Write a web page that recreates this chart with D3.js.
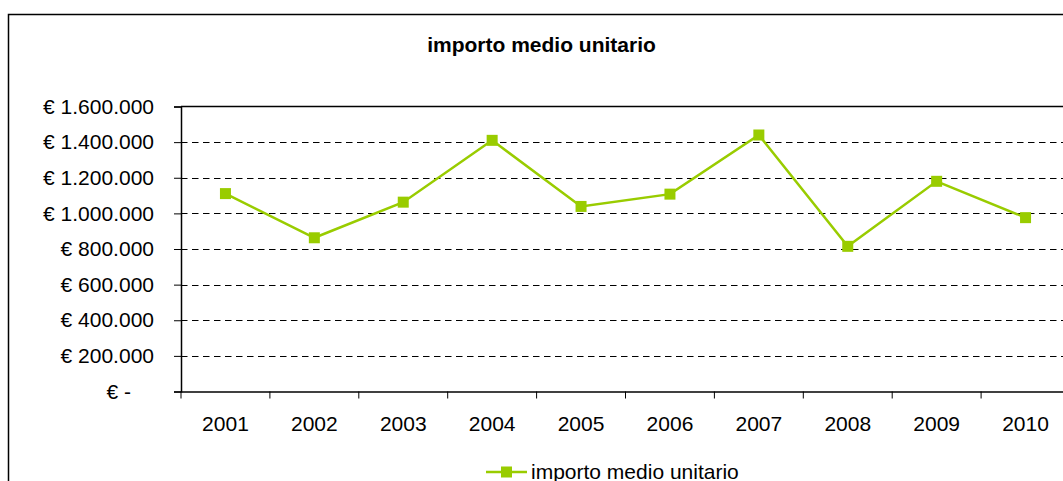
<!DOCTYPE html>
<html>
<head>
<meta charset="utf-8">
<script src="https://cdn.jsdelivr.net/npm/d3@7"></script>
<style>
  body { margin: 0; background: #fff; }
  svg { display: block; font-family: "Liberation Sans", Arial, sans-serif; }
</style>
</head>
<body>
<svg id="chart"></svg>
<script>
// data
const years = ["2001", "2002", "2003", "2004", "2005", "2006", "2007", "2008", "2009", "2010"];
const importo = [1111000, 863000, 1063000, 1410000, 1039000, 1108000, 1440000, 815000, 1180000, 976000];
const yTicks = [0, 200000, 400000, 600000, 800000, 1000000, 1200000, 1400000, 1600000];
const seriesName = "importo medio unitario";

const width = 1063;
const height = 481;
const green = "#99cc00";
const fontSize = 21;

const svg = d3.select("#chart")
    .attr("width", width)
    .attr("height", height);

// outer chart border (runs off the picture on right/bottom)
svg.append("rect")
    .attr("x", 8.5).attr("y", 14.5)
    .attr("width", 1200).attr("height", 600)
    .attr("fill", "none")
    .attr("stroke", "#000")
    .attr("stroke-width", 1.5);

svg.append("text")
    .attr("x", 541.5).attr("y", 52)
    .attr("text-anchor", "middle")
    .attr("font-size", fontSize)
    .attr("font-weight", "bold")
    .text(seriesName);

const plot = { left: 181, top: 106.5, right: 1070, bottom: 391.5 };

const x = d3.scaleBand()
    .domain(years)
    .range([plot.left, plot.right]);

const y = d3.scaleLinear()
    .domain([0, 1600000])
    .range([plot.bottom, plot.top]);

// number format like 1.600.000
const itFormat = d3.formatLocale({ decimal: ",", thousands: ".", grouping: [3], currency: ["€ ", ""] }).format(",.0f");

// dashed gridlines
svg.append("g")
    .selectAll("line")
    .data(yTicks.filter(d => d > 0 && d < 1600000))
    .enter()
    .append("line")
    .attr("x1", plot.left).attr("x2", width)
    .attr("y1", d => Math.round(y(d)) + 0.5)
    .attr("y2", d => Math.round(y(d)) + 0.5)
    .attr("stroke", "#000")
    .attr("stroke-width", 1)
    .attr("stroke-dasharray", "6.5,4.5");

// top edge of plot area
svg.append("line")
    .attr("x1", plot.left).attr("x2", width)
    .attr("y1", plot.top).attr("y2", plot.top)
    .attr("stroke", "#000").attr("stroke-width", 1.5);

// y axis
const yAxis = svg.append("g")
    .attr("transform", `translate(${plot.left},0)`)
    .call(d3.axisLeft(y)
        .tickValues(yTicks)
        .tickSize(7)
        .tickPadding(20)
        .tickFormat(d => d === 0 ? "€ -" : "€ " + itFormat(d)));
yAxis.select(".domain").attr("stroke-width", 1.5);
yAxis.selectAll("text")
    .attr("font-size", fontSize)
    .attr("fill", "#000")
    .attr("font-family", "Liberation Sans, Arial, sans-serif")
    .filter(d => d === 0)
    .attr("x", -50);

// x axis, ticks on category boundaries
const xAxis = svg.append("g")
    .attr("transform", `translate(0,${plot.bottom})`)
    .call(d3.axisBottom(x).tickSize(0).tickPadding(25));
xAxis.select(".domain").attr("stroke-width", 1.5);
xAxis.selectAll("text")
    .attr("font-size", fontSize)
    .attr("fill", "#000")
    .attr("font-family", "Liberation Sans, Arial, sans-serif");
xAxis.selectAll(".bound")
    .data(years)
    .enter()
    .append("line")
    .attr("x1", d => x(d)).attr("x2", d => x(d))
    .attr("y1", 0).attr("y2", 7)
    .attr("stroke", "#000");

// series line
const line = d3.line()
    .x((d, i) => x(years[i]) + x.bandwidth() / 2)
    .y(d => y(d));

svg.append("path")
    .datum(importo)
    .attr("d", line)
    .attr("fill", "none")
    .attr("stroke", green)
    .attr("stroke-width", 2.5);

svg.append("g")
    .selectAll("rect")
    .data(importo)
    .enter()
    .append("rect")
    .attr("x", (d, i) => x(years[i]) + x.bandwidth() / 2 - 5.5)
    .attr("y", d => y(d) - 5.5)
    .attr("width", 11).attr("height", 11)
    .attr("fill", green);

// legend
const legend = svg.append("g").attr("transform", "translate(486,472)");
legend.append("line")
    .attr("x1", 0).attr("x2", 41)
    .attr("stroke", green).attr("stroke-width", 2.5);
legend.append("rect")
    .attr("x", 15).attr("y", -5.5)
    .attr("width", 11).attr("height", 11)
    .attr("fill", green);
legend.append("text")
    .attr("x", 45).attr("y", 6.5)
    .attr("font-size", fontSize)
    .text(seriesName);
</script>
</body>
</html>
